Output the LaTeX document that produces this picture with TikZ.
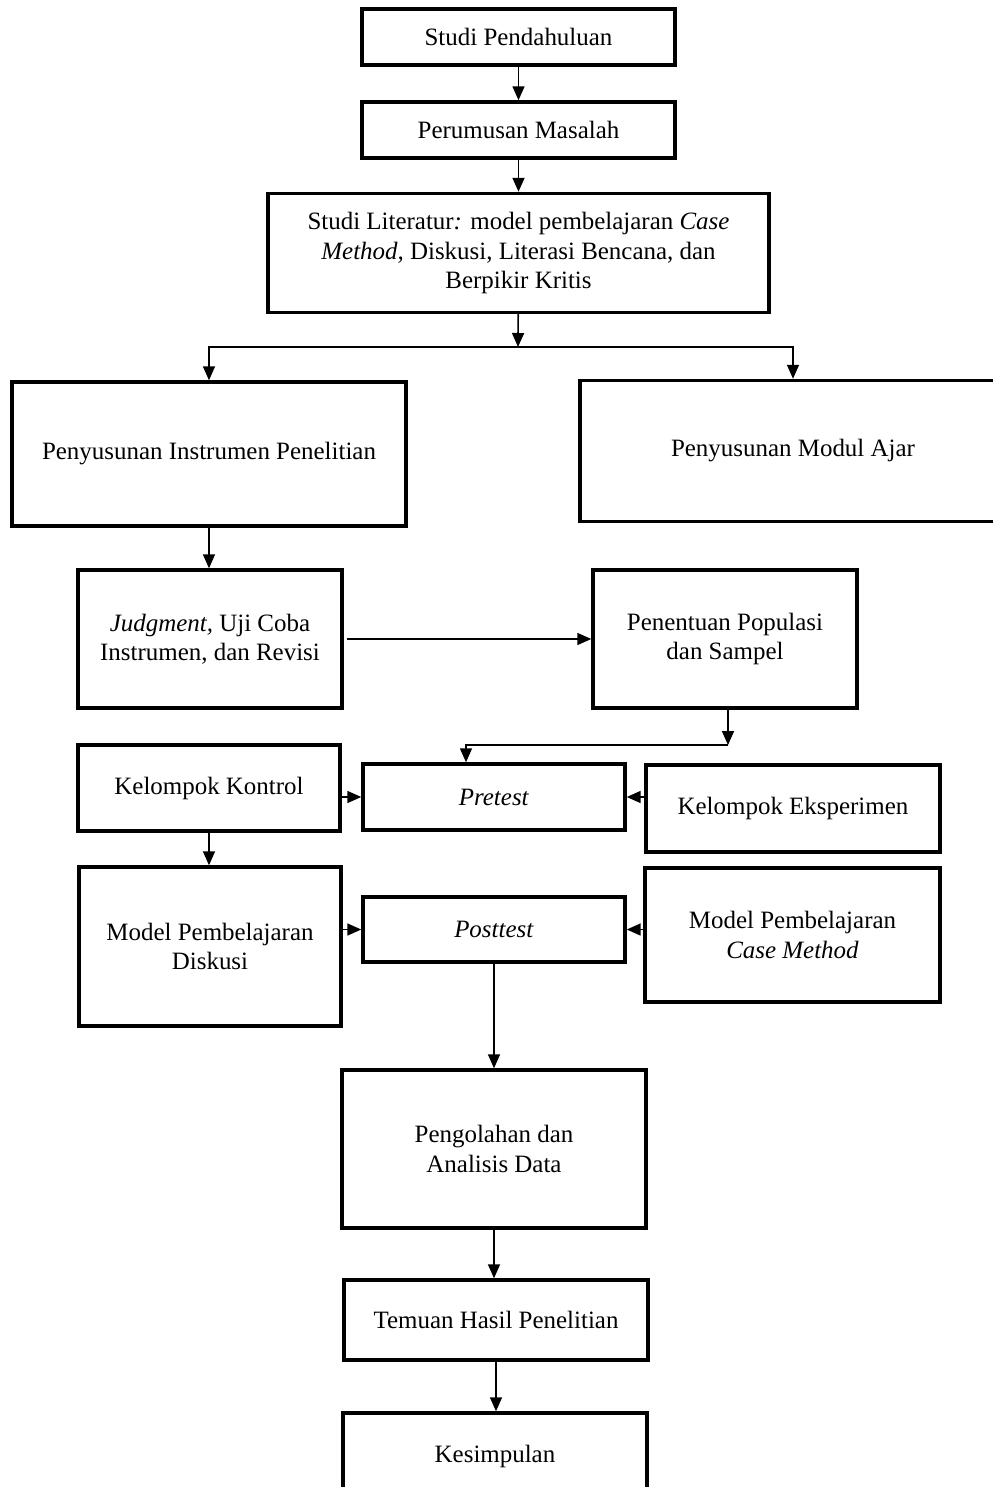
\documentclass[tikz,border=0pt]{standalone}
\usepackage{fontspec}
\setmainfont{Liberation Serif}
\usepackage{tikz}
\usetikzlibrary{
  arrows.meta
}
\tikzset{
  flowBox/.style={
    rectangle,
    draw=black,
    line width=2pt,
    inner sep=0pt,
    align=center,
    font=\fontsize{14.2}{16.6}\selectfont
  },
  flowArrow/.style={
    -{Triangle[length=2.8mm,width=2.4mm]},
    line width=0.95pt,
    draw=black
  }
}

\begin{document}
\begin{tikzpicture}[x=0.02cm,y=-0.02cm]
  \useasboundingbox (0,0) rectangle (993,1487);
  \clip (0,0) rectangle (993,1487);

  \node[flowBox, minimum width=6.26cm, minimum height=1.12cm]
    (studi) at (518.5,37) {Studi Pendahuluan};

  \node[flowBox, minimum width=6.26cm, minimum height=1.12cm]
    (rumusan) at (518.5,130) {Perumusan Masalah};

  \node[flowBox, minimum width=10.02cm, minimum height=2.38cm]
    (literatur) at (518.5,253)
    {Studi Literatur\textit{:} model pembelajaran \textit{Case}\\
     \textit{Method,} Diskusi, Literasi Bencana, dan\\
     Berpikir Kritis};

  \node[flowBox, minimum width=7.88cm, minimum height=2.88cm]
    (instrumen) at (209,454) {Penyusunan Instrumen Penelitian};

  \node[flowBox, minimum width=8.52cm, minimum height=2.82cm]
    (modul) at (793,451) {Penyusunan Modul Ajar};

  \node[flowBox, minimum width=5.28cm, minimum height=2.76cm]
    (judgment) at (210,639) {\textit{Judgment,} Uji Coba\\Instrumen, dan Revisi};

  \node[flowBox, minimum width=5.28cm, minimum height=2.76cm]
    (populasi) at (725,639) {Penentuan Populasi\\dan Sampel};

  \node[flowBox, minimum width=5.24cm, minimum height=1.72cm]
    (kontrol) at (209,788) {Kelompok Kontrol};

  \node[flowBox, minimum width=5.24cm, minimum height=1.32cm]
    (pretest) at (494,797) {\textit{Pretest}};

  \node[flowBox, minimum width=5.88cm, minimum height=1.74cm]
    (eksperimen) at (793,808.5) {Kelompok Eksperimen};

  \node[flowBox, minimum width=5.24cm, minimum height=3.18cm]
    (diskusi) at (210,946.5) {Model Pembelajaran\\Diskusi};

  \node[flowBox, minimum width=5.24cm, minimum height=1.3cm]
    (posttest) at (494,929.5) {\textit{Posttest}};

  \node[flowBox, minimum width=5.9cm, minimum height=2.68cm]
    (casemethod) at (792.5,935) {Model Pembelajaran\\\textit{Case Method}};

  \node[flowBox, minimum width=6.08cm, minimum height=3.16cm]
    (olah) at (494,1149) {Pengolahan dan\\Analisis Data};

  \node[flowBox, minimum width=6.08cm, minimum height=1.6cm]
    (temuan) at (496,1320) {Temuan Hasil Penelitian};

  \node[flowBox, minimum width=6.08cm, minimum height=1.72cm]
    (simpulan) at (495,1456) {Kesimpulan};

  \coordinate (split) at (518,347);
  \coordinate (join) at (728,745);

  \draw[flowArrow] (studi) -- (rumusan);
  \draw[flowArrow] (rumusan) -- (literatur);
  \draw[flowArrow] (literatur) -- (split);
  \draw[flowArrow] (split) -| (instrumen);
  \draw[flowArrow] (split) -| (modul);
  \draw[flowArrow] (instrumen.south) -- (instrumen.south |- judgment.north);
  \draw[flowArrow, shorten <=2pt] (judgment) -- (populasi);
  \draw[flowArrow] (populasi.south -| join) -- (join);
  \draw[flowArrow] (join) -| ([xshift=-0.56cm]pretest.north);
  \draw[flowArrow] (kontrol.east |- pretest) -- (pretest.west);
  \draw[flowArrow] (eksperimen.west |- pretest) -- (pretest.east);
  \draw[flowArrow] (kontrol.south) -- (kontrol.south |- diskusi.north);
  \draw[flowArrow] (diskusi.east |- posttest) -- (posttest.west);
  \draw[flowArrow] (casemethod.west |- posttest) -- (posttest.east);
  \draw[flowArrow] (posttest) -- (olah);
  \draw[flowArrow] (olah.south) -- (olah.south |- temuan.north);
  \draw[flowArrow] (temuan.south) -- (temuan.south |- simpulan.north);
\end{tikzpicture}
\end{document}
